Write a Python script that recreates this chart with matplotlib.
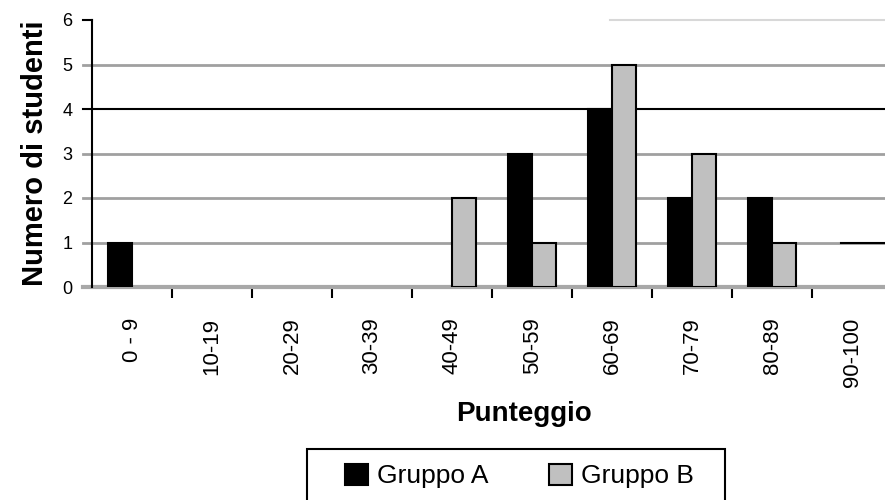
import numpy as np
import matplotlib.pyplot as plt
from matplotlib.patches import Patch, Rectangle

plt.rcParams['font.family'] = ['Liberation Sans', 'DejaVu Sans']

fasce = ['0 - 9', '10-19', '20-29', '30-39', '40-49',
         '50-59', '60-69', '70-79', '80-89', '90-100']
gruppo_a = [1, 0, 0, 0, 0, 3, 4, 2, 2, 0]
gruppo_b = [0, 0, 0, 0, 2, 1, 5, 3, 1, 0]
y_ticks = [0, 1, 2, 3, 4, 5, 6]

col_a = 'black'
col_b = '#c0c0c0'
bar_width = 0.3

fig = plt.figure(figsize=(8.85, 5), dpi=100)
ax = fig.add_axes([0.104, 0.426, 0.896, 0.534])

index = np.arange(len(fasce))
# niente bordo sulle barre a zero
lw_a = [1.5 if v else 0 for v in gruppo_a]
lw_b = [1.5 if v else 0 for v in gruppo_b]
ax.bar(index - bar_width / 2, gruppo_a, bar_width, color=col_a,
       edgecolor='black', linewidth=lw_a, zorder=3)
ax.bar(index + bar_width / 2, gruppo_b, bar_width, color=col_b,
       edgecolor='black', linewidth=lw_b, zorder=3)

ax.set_xlim(-0.5, 9.41)
ax.set_ylim(0, 6)

# griglia orizzontale (la linea del 4 e' nera)
for v in [1, 2, 3, 5]:
    ax.axhline(v, xmin=-0.011, xmax=1, color='#a0a0a0', lw=2,
               clip_on=False, zorder=1)
ax.axhline(4, xmin=-0.011, xmax=1, color='black', lw=1.5,
           clip_on=False, zorder=1)
ax.axhline(6, xmin=-0.011, xmax=0, color='black', lw=1.5,
           clip_on=False, zorder=1)
ax.axhline(6, xmin=0.653, xmax=1, color='#d8d8d8', lw=1.5,
           clip_on=False, zorder=1)
ax.axhline(1, xmin=0.945, xmax=1, color='black', lw=1.5, zorder=2)
ax.axhline(0, xmin=-0.011, xmax=1, color='#a8a8a8', lw=3,
           clip_on=False, zorder=2)

for s in ['top', 'right', 'bottom']:
    ax.spines[s].set_visible(False)
ax.spines['left'].set_color('black')
ax.spines['left'].set_linewidth(1.5)
ax.spines['left'].set_zorder(4)

ax.set_yticks(y_ticks)
ax.tick_params(axis='y', length=0, pad=14, labelsize=13)

ax.set_xticks(index)
ax.set_xticklabels(fasce, rotation=90)
ax.set_xticks(index[1:] - 0.5, minor=True)
ax.tick_params(axis='x', which='major', length=0, pad=22, labelsize=16)
ax.tick_params(axis='x', which='minor', length=8, width=1.5, color='black')

ax.set_ylabel('Numero di studenti', fontsize=21, fontweight='bold', labelpad=10)
ax.set_xlabel('Punteggio', fontsize=20, fontweight='bold', labelpad=10)
ax.xaxis.label.set_x(0.545)

# riquadro della legenda, tagliato dal bordo inferiore
fig.patches.append(Rectangle((0.347, -0.05), 0.472, 0.152,
                             transform=fig.transFigure, fill=False,
                             edgecolor='black', lw=1.5, clip_on=False))

handles = [Patch(facecolor=col_a, edgecolor='black', lw=1.5),
           Patch(facecolor=col_b, edgecolor='black', lw=1.5)]
fig.legend(handles, ['Gruppo A', 'Gruppo B'], loc='center left',
           bbox_to_anchor=(0.39, 0.048), ncol=2, fontsize=19,
           frameon=False, handlelength=0.87, handleheight=0.87,
           handletextpad=0.34, columnspacing=2.3, borderpad=0,
           borderaxespad=0)

fig.savefig('out.png', dpi=100)
